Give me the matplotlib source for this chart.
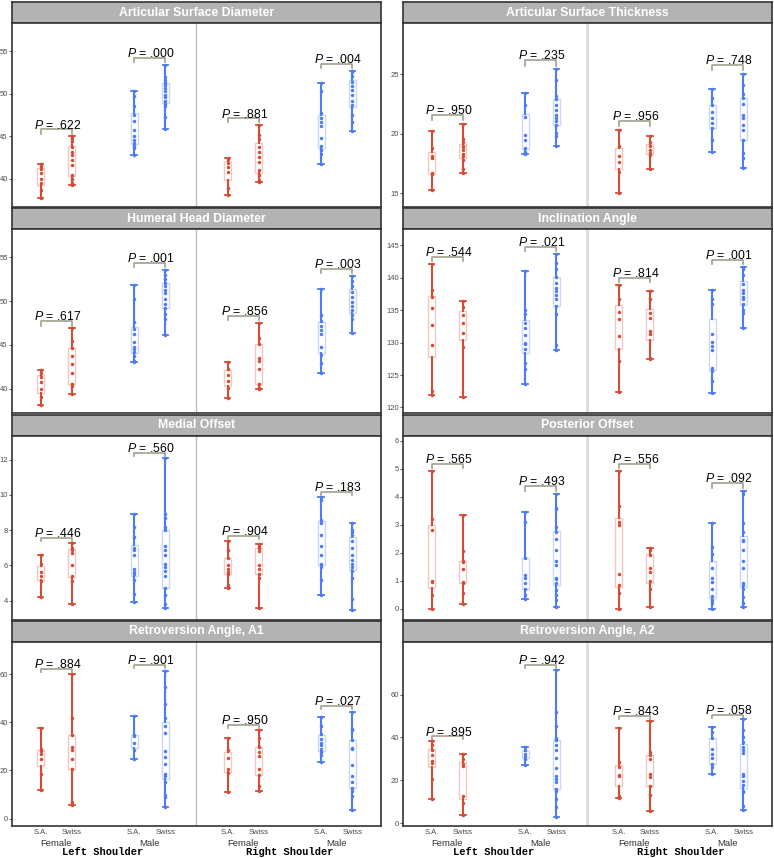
import numpy as np
import matplotlib
matplotlib.use('Agg')
import matplotlib.pyplot as plt

plt.rcParams['font.family'] = ['Liberation Sans', 'DejaVu Sans']
plt.rcParams['mathtext.fontset'] = 'custom'
plt.rcParams['mathtext.rm'] = 'Liberation Sans'
plt.rcParams['mathtext.it'] = 'Liberation Sans:italic'

RED = '#D64B33'
BLUE = '#4B7CF3'

# group order: L-F-SA, L-F-Swiss, L-M-SA, L-M-Swiss, R-F-SA, R-F-Swiss, R-M-SA, R-M-Swiss
COUNTRY = ['S.A.', 'Swiss'] * 4
SEX = ['Female', 'Male', 'Female', 'Male']
SIDE = ['Left Shoulder', 'Right Shoulder']
TITLES = ['Articular Surface Diameter', 'Articular Surface Thickness',
          'Humeral Head Diameter', 'Inclination Angle',
          'Medial Offset', 'Posterior Offset',
          'Retroversion Angle, A1', 'Retroversion Angle, A2']

asd = [[41.7, 41.5, 41.2, 40.7, 40.0, 39.5, 38.7, 37.7],
       [45.0, 44.8, 44.5, 43.7, 43.1, 42.8, 42.2, 41.6, 40.5, 40.0, 39.5, 39.3],
       [50.3, 49.7, 48.5, 47.5, 46.8, 45.7, 45.0, 44.6, 44.2, 43.9, 43.6, 42.8],
       [53.4, 52.0, 51.6, 51.3, 51.0, 50.7, 50.3, 49.9, 49.6, 49.2, 48.8, 48.5, 47.3, 45.8],
       [42.4, 42.3, 41.9, 41.4, 40.8, 38.9, 38.1],
       [46.3, 45.2, 44.7, 43.8, 43.1, 42.6, 42.0, 41.0, 40.5, 39.9, 39.6],
       [51.2, 50.3, 47.7, 47.2, 46.7, 46.2, 44.8, 43.9, 43.4, 42.9, 41.8],
       [52.7, 52.6, 52.1, 51.4, 50.9, 50.4, 49.8, 49.2, 48.7, 47.5, 46.7, 45.6]]
ast = [[20.2, 18.8, 18.1, 18.0, 16.7, 16.6, 15.3],
       [20.8, 19.6, 19.3, 19.0, 18.9, 18.6, 18.3, 18.1, 17.8, 17.0, 16.7],
       [23.4, 22.4, 21.4, 19.9, 19.5, 18.8, 18.5, 18.3],
       [25.4, 24.5, 23.2, 22.9, 22.4, 22.0, 21.6, 21.3, 21.1, 20.7, 20.1, 19.8, 19.0],
       [20.3, 19.0, 18.1, 17.6, 16.8, 15.0],
       [19.8, 19.3, 19.0, 18.6, 18.4, 18.2, 17.0],
       [23.8, 23.0, 22.4, 21.8, 21.3, 20.9, 20.5, 19.5, 18.5],
       [25.0, 24.1, 23.3, 23.0, 22.5, 21.6, 21.3, 20.7, 20.3, 19.5, 18.4, 18.0, 17.1]]
hhd = [[42.1, 41.8, 41.4, 40.8, 40.0, 39.1, 38.2],
       [46.9, 45.4, 44.7, 43.7, 42.8, 41.8, 40.6, 40.3, 39.4],
       [51.8, 50.3, 47.6, 46.8, 46.3, 45.3, 44.8, 44.5, 44.2, 43.7, 43.2, 43.0],
       [53.6, 53.0, 52.5, 52.1, 51.7, 51.3, 50.9, 50.2, 49.7, 49.2, 48.5, 48.0, 46.1],
       [43.1, 42.3, 41.6, 40.9, 40.1, 39.0],
       [47.5, 45.8, 45.1, 43.5, 43.2, 42.3, 40.6, 40.1, 40.0],
       [51.4, 48.4, 47.7, 47.2, 46.7, 46.2, 44.8, 43.9, 42.9, 41.8],
       [52.9, 52.3, 51.7, 51.0, 50.5, 49.9, 49.4, 49.0, 48.4, 48.0, 46.4]]
inc = [[142.1, 138.1, 137.0, 135.4, 132.8, 129.6, 122.5, 122.0],
       [136.4, 135.5, 134.3, 133.1, 131.5, 129.3, 121.6],
       [141.0, 135.0, 134.5, 133.1, 132.2, 131.2, 130.0, 129.8, 129.0, 126.9, 125.9, 123.6],
       [143.7, 142.3, 141.3, 140.1, 139.2, 138.5, 137.9, 137.4, 136.8, 135.7, 134.4, 129.7, 128.8],
       [138.9, 136.8, 134.7, 133.6, 131.0, 127.1, 122.4],
       [138.0, 136.8, 134.6, 133.8, 131.8, 131.3, 127.6, 127.5],
       [138.2, 136.7, 135.9, 131.3, 130.1, 129.5, 128.9, 126.1, 125.6, 124.1, 122.2],
       [141.7, 141.3, 140.5, 139.1, 138.2, 137.6, 137.1, 136.7, 136.0, 135.1, 134.6, 132.3]]
mof = [[6.6, 6.1, 5.6, 5.4, 5.1, 4.2],
       [7.3, 7.0, 6.9, 6.7, 6.0, 5.4, 5.1, 3.8],
       [8.9, 8.2, 7.6, 7.0, 6.9, 6.6, 5.8, 5.6, 5.5, 5.2, 4.4, 3.9],
       [12.1, 8.9, 8.7, 8.2, 8.0, 7.1, 6.9, 6.6, 6.1, 5.9, 5.7, 5.4, 4.7, 4.3, 4.3, 3.8, 3.6],
       [7.4, 6.9, 6.4, 6.0, 5.8, 5.6, 5.5, 4.9, 4.7],
       [7.2, 7.1, 7.0, 6.8, 6.0, 5.8, 5.5, 5.3, 3.6],
       [9.9, 9.7, 8.6, 8.4, 7.7, 7.1, 6.6, 6.1, 5.9, 5.2, 4.3],
       [8.4, 8.0, 7.9, 7.7, 7.4, 7.0, 6.6, 6.3, 6.1, 5.9, 5.7, 5.3, 4.1, 3.5]]
pof = [[4.9, 3.2, 2.8, 1.0, 0.95, 0.5, 0.0],
       [3.35, 2.05, 1.7, 1.65, 1.4, 0.95, 0.9, 0.55, 0.18],
       [3.45, 3.1, 1.8, 1.2, 1.1, 0.9, 0.7, 0.5, 0.35],
       [4.1, 3.6, 3.55, 2.9, 2.75, 2.5, 2.1, 1.7, 1.55, 1.1, 1.05, 0.9, 0.65, 0.5, 0.3, 0.05],
       [4.9, 3.65, 3.1, 3.0, 1.25, 0.85, 0.55, 0.0],
       [2.15, 2.1, 1.9, 1.45, 1.3, 1.0, 0.7, 0.05],
       [3.05, 2.2, 1.95, 1.45, 1.1, 0.95, 0.7, 0.45, 0.3, 0.2, 0.0],
       [4.2, 4.1, 3.05, 2.75, 2.45, 2.4, 2.1, 1.7, 1.45, 0.9, 0.85, 0.7, 0.4, 0.2, 0.05]]
ra1 = [[37.7, 28.7, 27.9, 26.9, 24.8, 18.6, 12.0],
       [60.0, 41.6, 34.6, 29.7, 28.3, 24.8, 20.6, 6.7, 5.6],
       [42.6, 34.9, 34.3, 31.5, 28.3, 24.6],
       [61.5, 54.8, 47.4, 41.6, 38.4, 35.6, 28.0, 25.5, 22.5, 18.6, 17.6, 15.3, 9.8, 9.1, 4.6],
       [33.6, 28.3, 25.1, 20.6, 19.0, 10.9],
       [36.6, 33.5, 29.7, 27.6, 26.0, 20.6, 17.9, 13.4, 11.6],
       [42.3, 38.4, 35.3, 33.2, 31.5, 30.4, 28.7, 27.6, 26.2, 23.4],
       [44.4, 37.4, 36.7, 32.5, 29.3, 28.7, 22.3, 17.6, 15.3, 12.6, 11.6, 9.5, 3.6]]
ra2 = [[38.2, 36.3, 34.0, 32.0, 28.8, 27.9, 20.4, 11.3],
       [32.3, 29.8, 27.4, 26.6, 12.8, 9.4, 3.8],
       [35.7, 34.0, 32.4, 31.3, 30.1, 27.3],
       [71.4, 51.7, 45.3, 39.8, 38.7, 36.7, 34.0, 30.4, 25.7, 21.9, 20.7, 19.1, 16.0, 15.2, 11.3, 7.4, 3.1],
       [44.5, 28.5, 26.2, 22.6, 22.2, 12.8, 11.6],
       [47.8, 33.2, 32.0, 29.8, 23.0, 21.5, 17.5, 13.2, 5.8],
       [45.0, 42.6, 39.8, 34.8, 32.4, 30.4, 27.7, 26.2, 23.0],
       [48.4, 43.4, 40.3, 37.9, 35.6, 34.0, 32.9, 23.0, 21.9, 19.9, 17.9, 15.2, 14.4, 8.1, 6.3]]

PVALS = [['.622', '.000', '.881', '.004'],
         ['.950', '.235', '.956', '.748'],
         ['.617', '.001', '.856', '.003'],
         ['.544', '.021', '.814', '.001'],
         ['.446', '.560', '.904', '.183'],
         ['.565', '.493', '.556', '.092'],
         ['.884', '.901', '.950', '.027'],
         ['.895', '.942', '.843', '.058']]
DATA = [asd, ast, hhd, inc, mof, pof, ra1, ra2]
YTICKS = [[40, 45, 50, 55], [15, 20, 25], [40, 45, 50, 55], [120, 125, 130, 135, 140, 145],
          [4, 6, 8, 10, 12], [0, 1, 2, 3, 4, 5, 6], [0, 20, 40, 60], [0, 20, 40, 60]]
YLIMS = [(36.7, 58.3), (13.85, 29.3), (37.2, 58.2), (119.1, 147.5),
         (2.93, 13.36), (-0.39, 6.18), (-3.07, 73.4), (-1.25, 84.6)]
PADS = [0.8, 0.8, 0.8, 1.1, 0.28, 0.28, 2.3, 2.3]

XPOS = [1, 2, 4, 5, 7, 8, 10, 11]
COLS = [RED, RED, BLUE, BLUE, RED, RED, BLUE, BLUE]

W, H = 774, 858
COL_X = [(12, 381), (403, 772)]
ROW_TOP = [2, 208.3, 414.6, 620.9]
STRIP_H = 21
PLOT_H = 184


def rect(x0, y0, x1, y1):
    return [x0 / W, 1 - y1 / H, (x1 - x0) / W, (y1 - y0) / H]


def draw_group(ax, x, vals, colour):
    v = np.asarray(vals)
    q1, q3 = np.percentile(v, [25, 75])
    lo, hi = v.min(), v.max()
    bw = 0.11
    ax.add_patch(plt.Rectangle((x - bw, q1), 2 * bw, q3 - q1, fill=False,
                               edgecolor=colour, alpha=0.3, lw=1.0, zorder=2))
    ax.plot([x, x], [q3, hi], color=colour, lw=1.5, zorder=3)
    ax.plot([x, x], [lo, q1], color=colour, lw=1.5, zorder=3)
    cw = 0.09
    ax.plot([x - cw, x + cw], [hi, hi], color=colour, lw=1.3, zorder=3)
    ax.plot([x - cw, x + cw], [lo, lo], color=colour, lw=1.3, zorder=3)
    ax.plot(np.full(len(v), x), v, 'o', color=colour, ms=2.5, mew=0, zorder=4)


fig = plt.figure(figsize=(W / 100, H / 100), dpi=100)

for i, (title, data) in enumerate(zip(TITLES, DATA)):
    row, col = divmod(i, 2)
    x0, x1 = COL_X[col]
    top = ROW_TOP[row]
    sax = fig.add_axes(rect(x0, top, x1, top + STRIP_H))
    sax.set_facecolor('#B3B3B3')
    sax.set_xticks([])
    sax.set_yticks([])
    for s in sax.spines.values():
        s.set_color('#333333')
        s.set_linewidth(1.2)
    sax.text(0.5, 0.5, title, ha='center', va='center', color='white',
             fontsize=8.8, fontweight='bold', transform=sax.transAxes)

    ax = fig.add_axes(rect(x0, top + STRIP_H, x1, top + STRIP_H + PLOT_H))
    for s in ax.spines.values():
        s.set_color('#333333')
        s.set_linewidth(1.2)
    ax.set_xlim(0.08, 11.92)
    ax.set_ylim(*YLIMS[i])
    ax.set_yticks(YTICKS[i])
    ax.tick_params(axis='y', labelsize=5.5, length=2, width=0.6, pad=1,
                   color='#333333', labelcolor='#4D4D4D')
    ax.set_xticks([])
    ax.axvline(6, color='#BEBEBE' if col == 0 else '#DCDCDC',
               lw=1.0 if col == 0 else 2.0, zorder=1)

    for x, vals, colour in zip(XPOS, data, COLS):
        draw_group(ax, x, vals, colour)

    pad = PADS[i]
    for k in range(4):
        xa, xb = XPOS[2 * k], XPOS[2 * k + 1]
        yb = max(max(data[2 * k]), max(data[2 * k + 1])) + pad
        ax.plot([xa, xa, xb, xb], [yb - 0.6 * pad, yb, yb, yb - 0.6 * pad],
                color='#A39E8E', lw=1.2, zorder=3)
        ax.annotate(r'$P$ = ' + PVALS[i][k], xy=((xa + xb) / 2, yb),
                    xytext=(0.8, 0.6), textcoords='offset points',
                    ha='center', va='baseline', fontsize=8.8, color='black', zorder=5)

    if row == 3:
        for x, lab in zip(XPOS, COUNTRY):
            ax.annotate(lab, xy=(x, 0), xycoords=('data', 'axes fraction'),
                        xytext=(0, -5.0), textcoords='offset points',
                        ha='center', va='center', fontsize=5.5, color='#4D4D4D')
        for k, lab in enumerate(SEX):
            xc = (XPOS[2 * k] + XPOS[2 * k + 1]) / 2
            ax.annotate(lab, xy=(xc, 0), xycoords=('data', 'axes fraction'),
                        xytext=(0, -12.5), textcoords='offset points',
                        ha='center', va='center', fontsize=6.8, color='#333333')
        for k, lab in enumerate(SIDE):
            xc = 3 + 6 * k
            ax.annotate(lab, xy=(xc, 0), xycoords=('data', 'axes fraction'),
                        xytext=(0, -19.0), textcoords='offset points',
                        ha='center', va='center', fontsize=7.5,
                        family=['Liberation Mono', 'DejaVu Sans Mono'],
                        fontweight='bold', color='black')

fig.savefig('out.png', dpi=100)
